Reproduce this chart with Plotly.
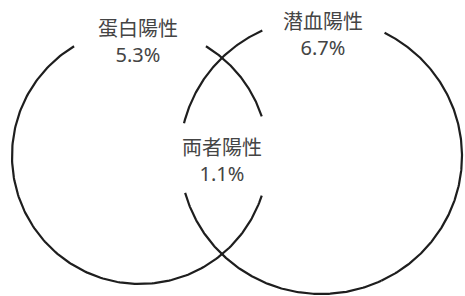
import numpy as np
import plotly.graph_objects as go

# Sets and their values
set_labels = ["蛋白陽性", "潜血陽性", "両者陽性"]
set_values = ["5.3%", "6.7%", "1.1%"]

# Circle geometry (pixel space, y downward)
circle_cx = [140, 321]
circle_cy = [156, 156]
circle_rx = [128, 141]
circle_ry = [128, 138]
# drawn arc segments (degrees, counter-clockwise, math convention) per circle
circle_arcs = [
    [(18, 59), (121, 342)],
    [(-64.7, 63.2), (114.6, 166.3), (195.5, 295.3)],
]

label_x = [138, 323, 222]
label_y = [41, 34, 160]

fig = go.Figure()
for cx, cy, rx, ry, arcs in zip(circle_cx, circle_cy, circle_rx, circle_ry, circle_arcs):
    for a0, a1 in arcs:
        t = np.radians(np.linspace(a0, a1, 200))
        fig.add_trace(go.Scatter(
            x=cx + rx * np.cos(t), y=cy - ry * np.sin(t),
            mode="lines", line=dict(color="#1e1e1e", width=2.2),
            hoverinfo="skip", showlegend=False))

for lab, val, x, y in zip(set_labels, set_values, label_x, label_y):
    fig.add_annotation(x=x, y=y, text=f"{lab}<br>{val}", showarrow=False,
                       align="center",
                       font=dict(family="Noto Sans, Noto Sans CJK JP", size=20, color="#444"))

fig.update_layout(
    width=465, height=296, margin=dict(l=0, r=0, t=0, b=0),
    paper_bgcolor="white", plot_bgcolor="white",
    xaxis=dict(range=[0, 465], visible=False, fixedrange=True),
    yaxis=dict(range=[296, 0], visible=False, fixedrange=True),
)
fig.write_html("out.html", config={"displayModeBar": False},
               post_script="document.body.style.margin='0';document.body.style.overflow='hidden';")
